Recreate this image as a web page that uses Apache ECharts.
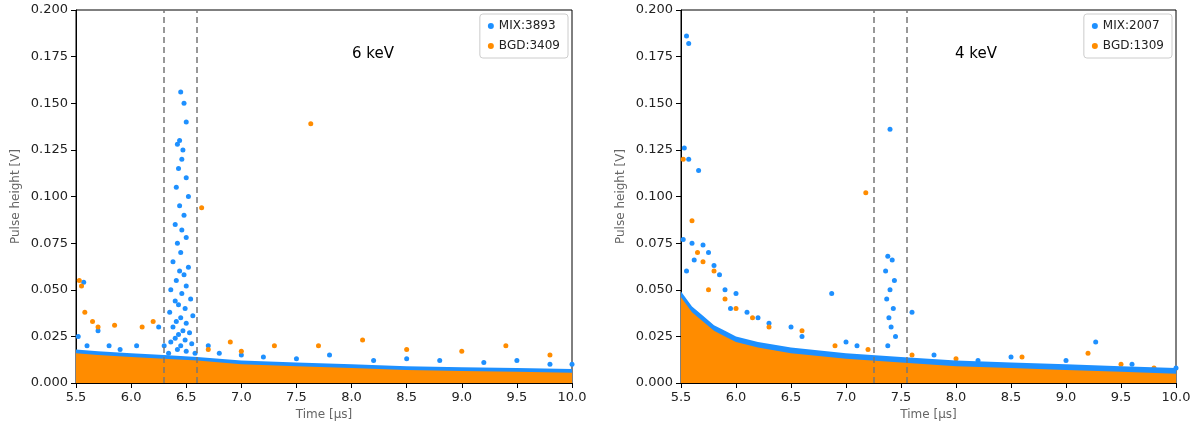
<!DOCTYPE html>
<html><head><meta charset="utf-8">
<script src="https://cdn.jsdelivr.net/npm/echarts@6/dist/echarts.min.js"></script>
<style>body{margin:0}#c{width:1200px;height:436px}</style></head>
<body><div id="c"></div>
<script>
// left panel (6 keV)
var mix6Band = [[5.5,0.018],[5.7,0.017],[6,0.016],[6.3,0.015],[6.6,0.014],[7,0.012],[7.5,0.011],[8,0.01],[8.5,0.009],[9,0.0085],[9.5,0.008],[10,0.0075]];
var bgd6Band = [[5.5,0.016],[5.7,0.015],[6,0.014],[6.3,0.013],[6.6,0.012],[7,0.01],[7.5,0.009],[8,0.008],[8.5,0.007],[9,0.0065],[9.5,0.006],[10,0.0055]];
var mix6 = [[5.57,0.054],[5.52,0.025],[5.6,0.02],[5.7,0.028],[5.8,0.02],[5.9,0.018],[6.05,0.02],[6.25,0.03],[6.3,0.02],[6.7,0.02],[6.8,0.016],[7.0,0.015],[7.2,0.014],[7.5,0.013],[7.8,0.015],[8.2,0.012],[8.5,0.013],[8.8,0.012],[9.2,0.011],[9.5,0.012],[9.8,0.01],[10,0.01],
  [6.45,0.156],[6.48,0.15],[6.5,0.14],[6.44,0.13],[6.42,0.128],[6.47,0.125],[6.46,0.12],[6.43,0.115],[6.5,0.11],[6.41,0.105],[6.52,0.1],[6.44,0.095],[6.48,0.09],[6.4,0.085],[6.46,0.082],[6.5,0.078],[6.42,0.075],[6.45,0.07],[6.38,0.065],[6.52,0.062],[6.44,0.06],[6.48,0.058],[6.41,0.055],[6.5,0.052],[6.36,0.05],[6.46,0.048],[6.54,0.045],[6.4,0.044],[6.43,0.042],[6.49,0.04],[6.35,0.038],[6.56,0.036],[6.45,0.035],[6.41,0.033],[6.5,0.032],[6.38,0.03],[6.47,0.028],[6.53,0.027],[6.43,0.026],[6.4,0.024],[6.49,0.023],[6.36,0.022],[6.55,0.021],[6.45,0.02],[6.42,0.018],[6.5,0.017],[6.58,0.016],[6.34,0.016]];
var bgd6 = [[5.53,0.055],[5.55,0.052],[5.58,0.038],[5.65,0.033],[5.7,0.03],[5.85,0.031],[6.1,0.03],[6.2,0.033],[6.64,0.094],[7.63,0.139],[6.9,0.022],[7.3,0.02],[7.7,0.02],[8.1,0.023],[8.5,0.018],[9.0,0.017],[9.4,0.02],[9.8,0.015],[7.0,0.017],[6.7,0.018]];
// right panel (4 keV)
var mix4Band = [[5.5,0.049],[5.55,0.045],[5.6,0.041],[5.7,0.036],[5.8,0.031],[5.9,0.028],[6,0.025],[6.2,0.022],[6.5,0.019],[7,0.016],[7.5,0.014],[8,0.012],[8.5,0.011],[9,0.01],[9.5,0.009],[10,0.008]];
var bgd4Band = [[5.5,0.046],[5.55,0.042],[5.6,0.038],[5.7,0.033],[5.8,0.028],[5.9,0.025],[6,0.022],[6.2,0.019],[6.5,0.016],[7,0.013],[7.5,0.011],[8,0.009],[8.5,0.008],[9,0.007],[9.5,0.006],[10,0.005]];
var mix4 = [[5.55,0.186],[5.57,0.182],[5.53,0.126],[5.57,0.12],[5.66,0.114],[5.52,0.077],[5.6,0.075],[5.7,0.074],[5.75,0.07],[5.62,0.066],[5.8,0.063],[5.55,0.06],[5.85,0.058],[5.9,0.05],[6.0,0.048],[5.95,0.04],[6.1,0.038],[6.2,0.035],[6.3,0.032],[6.5,0.03],[6.87,0.048],[6.6,0.025],[7.0,0.022],[7.1,0.02],[7.4,0.136],[7.38,0.068],[7.42,0.066],[7.36,0.06],[7.44,0.055],[7.4,0.05],[7.37,0.045],[7.43,0.04],[7.39,0.035],[7.41,0.03],[7.45,0.025],[7.38,0.02],[7.6,0.038],[7.8,0.015],[8.2,0.012],[8.5,0.014],[9.27,0.022],[9.0,0.012],[9.6,0.01],[10,0.008]];
var bgd4 = [[5.52,0.12],[5.6,0.087],[5.65,0.07],[5.7,0.065],[5.8,0.06],[5.75,0.05],[5.9,0.045],[6.0,0.04],[6.15,0.035],[6.3,0.03],[6.6,0.028],[6.9,0.02],[7.18,0.102],[7.2,0.018],[7.6,0.015],[8.0,0.013],[8.6,0.014],[9.2,0.016],[9.5,0.01],[9.8,0.008]];
var windows = [[6.3,6.6],[7.25,7.55]];
var titles = ['6 keV','4 keV'];
var names = [['MIX:3893','BGD:3409'],['MIX:2007','BGD:1309']];

var BLUE = '#1e90ff', ORANGE = '#ff8c00';
var lbl = {color:'#222', fontSize:13, fontFamily:'DejaVu Sans'};
function xAx(i){return {gridIndex:i,type:'value',min:5.5,max:10,interval:0.5,name:'Time [μs]',nameLocation:'middle',nameGap:26,
  nameTextStyle:{color:'#666',fontSize:12,fontFamily:'DejaVu Sans'},axisLabel:Object.assign({formatter:function(v){return v.toFixed(1);}},lbl),
  axisLine:{lineStyle:{color:'#000'}},axisTick:{lineStyle:{color:'#000'}},splitLine:{show:false}};}
function yAx(i){return {gridIndex:i,type:'value',min:0,max:0.2,interval:0.025,name:'Pulse height [V]',nameLocation:'middle',nameGap:54,
  nameTextStyle:{color:'#666',fontSize:12,fontFamily:'DejaVu Sans'},axisLabel:Object.assign({formatter:function(v){return v.toFixed(3);}},lbl),
  axisLine:{lineStyle:{color:'#000'}},axisTick:{lineStyle:{color:'#000'}},splitLine:{show:false}};}
function band(i,d,c){return {type:'line',xAxisIndex:i,yAxisIndex:i,data:d,symbol:'none',silent:true,lineStyle:{width:0},areaStyle:{color:c,opacity:1},color:c};}
function pts(i,n,d,c){return {type:'scatter',name:n,xAxisIndex:i,yAxisIndex:i,data:d,symbolSize:5,itemStyle:{color:c,opacity:1}};}
function vlines(i){return {type:'line',xAxisIndex:i,yAxisIndex:i,data:[],silent:true,
  markLine:{symbol:'none',label:{show:false},lineStyle:{color:'#777',type:[6,4],width:1.5},data:windows[i].map(function(x){return {xAxis:x};})}};}
function leg(i,right){return {data:names[i],right:right,top:14,orient:'vertical',icon:'circle',itemWidth:6,itemHeight:6,itemGap:8,padding:[6,8],
  borderColor:'#ccc',borderWidth:1,borderRadius:3,textStyle:{fontSize:12,fontFamily:'DejaVu Sans',color:'#222'}};}

var option = {
  animation:false,
  grid:[{left:76,width:496,top:10,bottom:53,show:true,borderColor:'#000'},{left:681,width:495,top:10,bottom:53,show:true,borderColor:'#000'}],
  xAxis:[xAx(0),xAx(1)],
  yAxis:[yAx(0),yAx(1)],
  legend:[leg(0,632),leg(1,28)],
  graphic:[
    {type:'text',left:352,top:47,style:{text:titles[0],fontSize:15,fontFamily:'DejaVu Sans',fill:'#000'}},
    {type:'text',left:955,top:47,style:{text:titles[1],fontSize:15,fontFamily:'DejaVu Sans',fill:'#000'}}
  ],
  series:[
    band(0,mix6Band,BLUE), band(0,bgd6Band,ORANGE),
    pts(0,names[0][0],mix6,BLUE), pts(0,names[0][1],bgd6,ORANGE), vlines(0),
    band(1,mix4Band,BLUE), band(1,bgd4Band,ORANGE),
    pts(1,names[1][0],mix4,BLUE), pts(1,names[1][1],bgd4,ORANGE), vlines(1)
  ]
};
var chart = echarts.init(document.getElementById('c'));
chart.setOption(option);
</script></body></html>
